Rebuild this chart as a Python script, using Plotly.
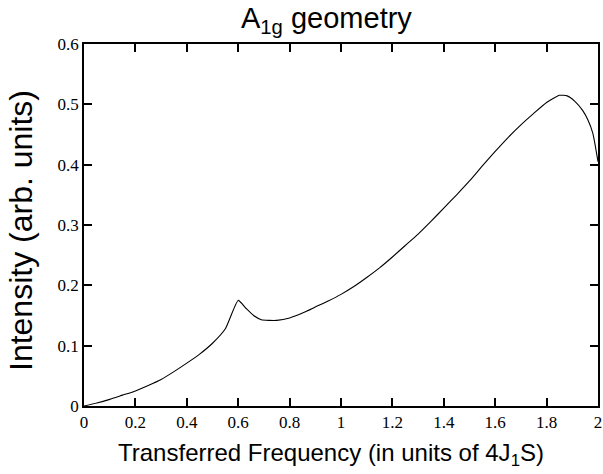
import plotly.graph_objects as go

freq = [0, 0.05, 0.1, 0.15, 0.2, 0.25, 0.3, 0.35, 0.4, 0.45, 0.5, 0.55, 0.6, 0.63, 0.66,
        0.69, 0.72, 0.75, 0.8, 0.85, 0.9, 0.95, 1.0, 1.05, 1.1, 1.15, 1.2, 1.25, 1.3, 1.35,
        1.4, 1.45, 1.5, 1.55, 1.6, 1.65, 1.7, 1.75, 1.8, 1.85, 1.88, 1.91, 1.94, 1.96, 1.98, 2.0]
intensity = [0, 0.005, 0.011, 0.018, 0.025, 0.034, 0.044, 0.057, 0.071, 0.086, 0.104, 0.128,
             0.175, 0.162, 0.150, 0.143, 0.142, 0.142, 0.146, 0.154, 0.164, 0.174, 0.185,
             0.198, 0.213, 0.229, 0.247, 0.266, 0.285, 0.306, 0.328, 0.350, 0.373, 0.398,
             0.422, 0.445, 0.466, 0.485, 0.503, 0.515, 0.514, 0.505, 0.490, 0.475, 0.452, 0.405]

x_ticks = [0, 0.2, 0.4, 0.6, 0.8, 1, 1.2, 1.4, 1.6, 1.8, 2]
x_labels = ["0", "0.2", "0.4", "0.6", "0.8", "1", "1.2", "1.4", "1.6", "1.8", "2"]
y_ticks = [0, 0.1, 0.2, 0.3, 0.4, 0.5, 0.6]
y_labels = ["0", "0.1", "0.2", "0.3", "0.4", "0.5", "0.6"]

title_text = "A<sub>1g</sub> geometry"
x_title = "Transferred Frequency (in units of 4J<sub>1</sub>S)"
y_title = "Intensity (arb. units)"

fig = go.Figure(go.Scatter(x=freq, y=intensity, mode="lines",
                           line=dict(color="black", width=1.1, shape="spline", smoothing=0.5)))

axis_common = dict(showline=True, linecolor="black", linewidth=1.5, mirror="allticks",
                   ticks="inside", ticklen=8, tickwidth=1.5, tickcolor="black",
                   showgrid=False, zeroline=False, automargin=False,
                   tickfont=dict(family="Liberation Serif", size=17, color="black"))

fig.update_xaxes(range=[0, 2], tickmode="array", tickvals=x_ticks, ticktext=x_labels, **axis_common)
fig.update_yaxes(range=[0, 0.6], tickmode="array", tickvals=y_ticks, ticktext=y_labels, **axis_common)

W, H = 603, 474
L, R, T, B = 84, 5, 44, 68
pw, ph = W - L - R, H - T - B


def px_to_paper(px, py):
    return (px - L) / pw, (H - B - py) / ph


ax_t, ay_t = px_to_paper(326, 20)
ax_x, ay_x = px_to_paper(331, 454)
ax_y, ay_y = px_to_paper(21, 231)

fig.update_layout(
    width=W, height=H,
    margin=dict(l=L, r=R, t=T, b=B),
    paper_bgcolor="white", plot_bgcolor="white",
    showlegend=False,
    annotations=[
        dict(text=title_text, x=ax_t, y=ay_t, xref="paper", yref="paper",
             xanchor="center", yanchor="middle", showarrow=False,
             font=dict(family="Liberation Sans", size=29, color="black")),
        dict(text=x_title, x=ax_x, y=ay_x, xref="paper", yref="paper",
             xanchor="center", yanchor="middle", showarrow=False,
             font=dict(family="Liberation Sans", size=24, color="black")),
        dict(text=y_title, x=ax_y, y=ay_y, xref="paper", yref="paper", textangle=-90,
             xanchor="center", yanchor="middle", showarrow=False,
             font=dict(family="Liberation Sans", size=32, color="black")),
    ],
)

fig.write_html("out.html", config={"displayModeBar": False},
               post_script="document.body.style.margin='0';")
